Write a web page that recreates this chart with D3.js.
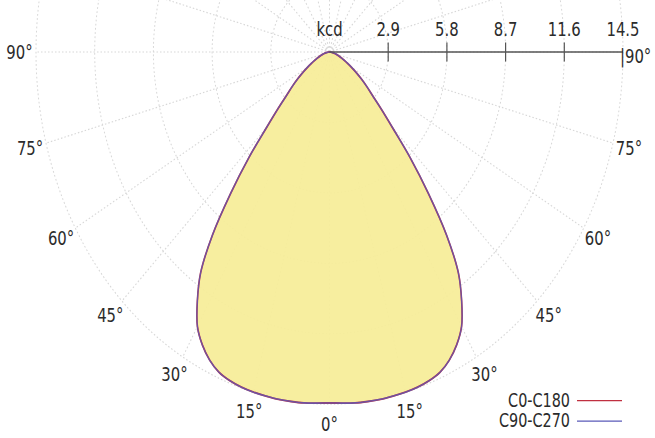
<!DOCTYPE html>
<html>
<head>
<meta charset="utf-8">
<script src="https://cdn.jsdelivr.net/npm/d3@7"></script>
<style>
  html, body { margin: 0; padding: 0; background: #fff; }
  svg { display: block; }
  text { font-family: "DejaVu Sans Condensed", "DejaVu Sans", sans-serif; fill: #2b2b2b; }
</style>
</head>
<body>
<svg id="chart" width="655" height="438"></svg>
<script>
// ---- data ----
const angles = [0,2.5,5,7.5,10,12.5,15,17.5,20,22.5,25,27.5,30,32.5,35,37.5,40,42.5,45,47.5,50,52.5,55,57.5,60,62.5,65,67.5,70,72.5,75,77.5,80,82.5,85,87.5,90];
const c0c180 = [14.45,14.47,14.5,14.51,14.52,14.51,14.5,14.47,14.4,14.27,14.0,13.6,13.05,12.15,11.1,9.5,7.6,5.9,4.4,3.45,2.75,2.3,1.9,1.55,1.25,1.0,0.8,0.65,0.52,0.42,0.33,0.25,0.18,0.12,0.07,0.03,0];
const c90c270 = [14.45,14.47,14.5,14.51,14.52,14.51,14.5,14.47,14.4,14.27,14.0,13.6,13.05,12.15,11.1,9.5,7.6,5.9,4.4,3.45,2.75,2.3,1.9,1.55,1.25,1.0,0.8,0.65,0.52,0.42,0.33,0.25,0.18,0.12,0.07,0.03,0];
const ringValues = [2.9, 5.8, 8.7, 11.6, 14.5];
const tickLabels = ["2.9", "5.8", "8.7", "11.6", "14.5"];
const angleLabelsLeft = [90, 75, 60, 45, 30, 15];
const angleLabelsRight = [15, 30, 45, 60, 75];
const seriesNames = ["C0-C180", "C90-C270"];
const seriesColors = ["#c03040", "#5a5ab8"];

// ---- layout ----
const W = 655, H = 438;
const sy = 1.2;               // vertical stretch of the picture
const cx = 329.5, cy = 52 / sy;
const rMax = 293.5;
const r = d3.scaleLinear().domain([0, 14.5]).range([0, rMax]);
const toRad = d => d * Math.PI / 180;

const svg = d3.select("#chart");
const root = svg.append("g").attr("transform", `scale(1,${sy})`);
const g = root.append("g").attr("transform", `translate(${cx},${cy})`);

// grid rings
g.append("g").selectAll("circle").data(ringValues).join("circle")
  .attr("r", d => r(d))
  .attr("fill", "none")
  .attr("stroke", "#d8d8d8")
  .attr("stroke-width", 1)
  .attr("stroke-dasharray", "1.5,2");

// radial lines every 15 deg
const spokes = d3.range(0, 360, 15);
g.append("g").selectAll("line").data(spokes).join("line")
  .attr("x1", 0).attr("y1", 0)
  .attr("x2", d => r(14.5) * Math.sin(toRad(d)))
  .attr("y2", d => r(14.5) * Math.cos(toRad(d)))
  .attr("stroke", "#d8d8d8")
  .attr("stroke-width", 1)
  .attr("stroke-dasharray", "1.5,2");

// photometric curves: right side = first half-plane, left side = mirrored
function pts(vals) {
  const left = angles.map((a, i) => [Math.PI + toRad(a), r(vals[i])]).reverse();
  const right = angles.map((a, i) => [Math.PI - toRad(a), r(vals[i])]);
  return left.concat(right.slice(1));
}
const radial = d3.lineRadial().angle(d => d[0]).radius(d => d[1]).curve(d3.curveCatmullRom);

g.append("path")
  .attr("d", radial(pts(c0c180)) + "Z")
  .attr("fill", "#f6ed98")
  .attr("fill-opacity", 0.93)
  .attr("stroke", "none");

g.append("path")
  .attr("d", radial(pts(c0c180)))
  .attr("fill", "none")
  .attr("stroke", seriesColors[0])
  .attr("stroke-width", 1.6);
g.append("path")
  .attr("d", radial(pts(c90c270)))
  .attr("fill", "none")
  .attr("stroke", seriesColors[1])
  .attr("stroke-opacity", 0.8)
  .attr("stroke-width", 1.3);

// top kcd axis
const ax = g.append("g");
ax.append("line").attr("x1", 0).attr("x2", r(14.5)).attr("y1", 0).attr("y2", 0)
  .attr("stroke", "#555").attr("stroke-width", 1.2);
ax.selectAll("line.tick").data(ringValues.slice(0, 4)).join("line")
  .attr("class", "tick")
  .attr("x1", d => r(d)).attr("x2", d => r(d))
  .attr("y1", -8).attr("y2", 8)
  .attr("stroke", "#555").attr("stroke-width", 1.2);
ax.selectAll("text.tl").data(ringValues).join("text")
  .attr("class", "tl")
  .attr("x", d => r(d)).attr("y", -19)
  .attr("dy", "0.35em")
  .attr("text-anchor", "middle")
  .attr("font-size", 16.5)
  .text((d, i) => tickLabels[i]);
ax.append("text").attr("x", 0).attr("y", -19).attr("dy", "0.35em")
  .attr("text-anchor", "middle").attr("font-size", 16.5).text("kcd");
ax.append("text").attr("x", r(14.5) - 3).attr("y", 3).attr("dy", "0.35em")
  .attr("text-anchor", "start").attr("font-size", 16.5).text("|90°");

// angle labels
const labR = 310;
const labs = angleLabelsLeft.map(a => ({a: a, s: -1}))
  .concat([{a: 0, s: 1}])
  .concat(angleLabelsRight.map(a => ({a: a, s: 1})));
g.append("g").selectAll("text").data(labs).join("text")
  .attr("x", d => d.s * labR * Math.sin(toRad(d.a)))
  .attr("y", d => labR * Math.cos(toRad(d.a)))
  .attr("dy", "0.35em")
  .attr("text-anchor", "middle")
  .attr("font-size", 16.5)
  .text(d => d.a + "°");

// legend
const leg = root.append("g");
const legY = [400 / sy, 420.5 / sy];
seriesNames.forEach((name, i) => {
  leg.append("text").attr("x", 570).attr("y", legY[i]).attr("dy", "0.35em")
    .attr("text-anchor", "end").attr("font-size", 16).text(name);
  leg.append("line").attr("x1", 577).attr("x2", 622)
    .attr("y1", legY[i] + 0.5).attr("y2", legY[i] + 0.5)
    .attr("stroke", seriesColors[i]).attr("stroke-width", 1.2);
});
</script>
</body>
</html>
